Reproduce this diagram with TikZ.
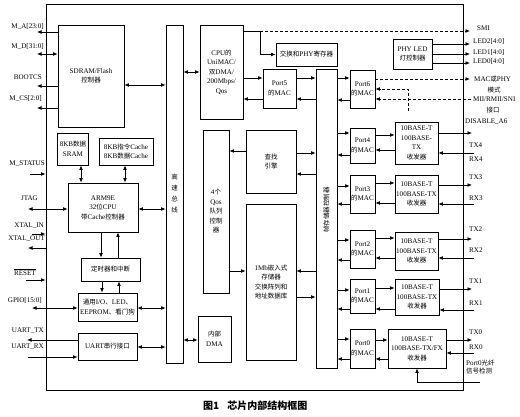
\documentclass[tikz,border=0pt]{standalone}
\usepackage{fontspec}
\setmainfont{Liberation Serif}
\newfontfamily\cjk{Noto Sans CJK SC}
\usetikzlibrary{arrows.meta}
\newcommand\zh[1]{{\cjk\fontsize{6.5}{9}\selectfont #1}}
\begin{document}
\begin{tikzpicture}[x=1pt,y=-1pt,
 box/.style={draw,line width=0.8pt,inner sep=0pt,align=center,font=\fontsize{7.1}{9.5}\selectfont},
 arr/.style={-{Latex[length=4.5pt,width=3.8pt]},line width=0.7pt},
 darr/.style={{Latex[length=4.5pt,width=3.8pt]}-{Latex[length=4.5pt,width=3.8pt]},line width=0.7pt},
 dsh/.style={dash pattern=on 3pt off 2pt},
 lbl/.style={inner sep=0pt,font=\fontsize{7.1}{8.5}\selectfont}]
\useasboundingbox (0,0) rectangle (520,417);
% outer chip
\node[box,line width=0.9pt,minimum width=417pt,minimum height=386pt] (chip) at (254.5,197) {};
% left column
\node[box,minimum width=66pt,minimum height=102pt] (sdram) at (91,76) {SDRAM/Flash\\\zh{控制器}};
\node[box,minimum width=17pt,minimum height=338pt,font=\fontsize{7}{11}\selectfont] (bus) at (174.5,194) {\zh{高}\\\zh{速}\\\zh{总}\\\zh{线}};
\node[box,minimum width=31pt,minimum height=32pt] (sram) at (73,149) {8KB\zh{数据}\\SRAM};
\node[box,minimum width=54pt,minimum height=27pt] (cache) at (126,151.5) {8KB\zh{指令}Cache\\8KB\zh{数据}Cache};
\node[box,minimum width=70pt,minimum height=49pt] (arm) at (103,207.5) {ARM9E\\32\zh{位}CPU\\\zh{带}Cache\zh{控制器}};
\node[box,minimum width=59pt,minimum height=23pt] (timer) at (110.5,269.5) {\zh{定时器和中断}};
\node[box,minimum width=59pt,minimum height=28pt] (gpio) at (107.5,307) {\zh{通用}I/O\zh{、}LED\zh{、}\\EEPROM\zh{、看门狗}};
\node[box,minimum width=59pt,minimum height=27pt] (uart) at (107.5,346.5) {UART\zh{串行接口}};
% middle
\node[box,minimum width=43pt,minimum height=94pt] (cpu) at (221.5,72) {CPU\zh{的}\\UniMAC/\\\zh{双}DMA/\\200Mbps/\\Qos};
\node[box,minimum width=61pt,minimum height=23pt] (phyreg) at (306.5,54.5) {\zh{交换和}PHY\zh{寄存器}};
\node[box,minimum width=33pt,minimum height=39pt] (port5) at (279.5,88.5) {Port5\\\zh{的}MAC};
\node[box,minimum width=21pt,minimum height=299pt] (frame) at (326.5,218.5) {};
\node[lbl,rotate=90] (frametxt) at (326.5,210) {\zh{帧存储器控制器}};
\node[box,minimum width=26pt,minimum height=163pt] (qos) at (216,211.5) {4\zh{个}\\Qos\\\zh{队列}\\\zh{控制}\\\zh{器}};
\node[box,minimum width=50pt,minimum height=63pt] (lookup) at (271,161.5) {\zh{查找}\\\zh{引擎}};
\node[box,minimum width=50pt,minimum height=156pt] (mem) at (271,282) {1Mb\zh{嵌入式}\\\zh{存储器}\\\zh{交换阵列和}\\\zh{地址数据库}};
\node[box,minimum width=33pt,minimum height=46pt] (dma) at (214.5,339) {\zh{内部}\\DMA};
% ports
\node[box,minimum width=25pt,minimum height=38pt] (port6) at (362.5,89) {Port6\\\zh{的}MAC};
\node[box,minimum width=25pt,minimum height=35pt] (port4) at (362.5,145.5) {Port4\\\zh{的}MAC};
\node[box,minimum width=25pt,minimum height=38pt] (port3) at (362.5,194) {Port3\\\zh{的}MAC};
\node[box,minimum width=25pt,minimum height=38pt] (port2) at (362.5,249) {Port2\\\zh{的}MAC};
\node[box,minimum width=25pt,minimum height=34pt] (port1) at (362.5,296) {Port1\\\zh{的}MAC};
\node[box,minimum width=25pt,minimum height=39pt] (port0) at (362.5,348.5) {Port0\\\zh{的}MAC};
\node[box,minimum width=39pt,minimum height=30pt] (phyled) at (412.5,54) {PHY LED\\\zh{灯控制器}};
\node[box,minimum width=43pt,minimum height=42pt] (trx4) at (416.5,143) {10BASE-T\\100BASE-\\TX\\\zh{收发器}};
\node[box,minimum width=43pt,minimum height=38pt] (trx3) at (416.5,194) {10BASE-T\\100BASE-TX\\\zh{收发器}};
\node[box,minimum width=43pt,minimum height=38pt] (trx2) at (416.5,251) {10BASE-T\\100BASE-TX\\\zh{收发器}};
\node[box,minimum width=44pt,minimum height=36pt] (trx1) at (417,297) {10BASE-T\\100BASE-TX\\\zh{收发器}};
\node[box,minimum width=58pt,minimum height=39pt] (trx0) at (417,348.5) {10BASE-T\\100BASE-TX/FX\\\zh{收发器}};
% left pins
\coordinate (pMA) at (37,32); \coordinate (pMD) at (37,54); \coordinate (pBC) at (37,86); \coordinate (pCS) at (37,108);
\coordinate (pST) at (30,174); \coordinate (pJT) at (28,209); \coordinate (pXI) at (32,234); \coordinate (pXO) at (28,248);
\coordinate (pRS) at (26,280); \coordinate (pGP) at (32,308); \coordinate (pTX) at (27,340); \coordinate (pRX) at (28,357);
\draw[arr] (sdram.west|-pMA) -- (pMA);
\draw[darr] (pMD) -- (sdram.west|-pMD);
\draw[arr] (sdram.west|-pBC) -- (pBC);
\draw[arr] (sdram.west|-pCS) -- (pCS);
\draw[arr] (pST) -- (chip.west|-pST);
\draw[darr] (pJT) -- (arm.west|-pJT);
\draw[arr] (pXI) -- (chip.west|-pXI);
\draw[arr] (chip.west|-pXO) -- (pXO);
\draw[arr] (pRS) -- (chip.west|-pRS);
\draw[darr] (pGP) -- (gpio.west|-pGP);
\draw[arr] (uart.west|-pTX) -- (pTX);
\draw[arr] (pRX) -- (uart.west|-pRX);
\node[lbl,anchor=east] (lMA) at (44,27) {M\_A[23:0]};
\node[lbl,anchor=east] (lMD) at (44,47) {M\_D[31:0]};
\node[lbl,anchor=east] (lBC) at (42,77) {BOOTCS};
\node[lbl,anchor=east] (lCS) at (42,99) {M\_CS[2:0]};
\node[lbl,anchor=east] (lST) at (45,164) {M\_STATUS};
\node[lbl,anchor=east] (lJT) at (38,198) {JTAG};
\node[lbl,anchor=east] (lXI) at (44,226) {XTAL\_IN};
\node[lbl,anchor=east] (lXO) at (45,239) {XTAL\_OUT};
\node[lbl,anchor=east] (lRS) at (36,272) {$\overline{\mbox{RESET}}$};
\node[lbl,anchor=east] (lGP) at (42,301) {GPIO[15:0]};
\node[lbl,anchor=east] (lTX) at (44,331) {UART\_TX};
\node[lbl,anchor=east] (lRX) at (44,347) {UART\_RX};
% internal left
\draw[darr] (sdram.east|-0,85) -- (bus.west|-0,85);
\draw[darr] (sram.south-|81,0) -- (arm.north-|81,0);
\draw[darr] (cache.south-|125,0) -- (arm.north-|125,0);
\draw[darr] (arm.east|-0,209) -- (bus.west|-0,209);
\draw[arr] (arm.south-|101,0) -- (timer.north-|101,0);
\draw[arr] (timer.north-|118,0) -- (arm.south-|118,0);
\draw[arr] (timer.south-|102,0) -- (gpio.north-|102,0);
\draw[arr] (gpio.north-|119,0) -- (timer.south-|119,0);
\draw[darr] (gpio.east|-0,308) -- (bus.west|-0,308);
\draw[darr] (uart.east|-0,347) -- (bus.west|-0,347);
% middle connections
\draw[darr] (bus.east|-0,72) -- (cpu.west|-0,72);
\draw[darr] (bus.east|-0,340) -- (dma.west|-0,340);
\coordinate (smiC) at (260,31); \coordinate (smiE) at (470,31);
\draw[arr] (cpu.east|-smiC) -- (smiC) |- (phyreg.west);
\draw[arr,dsh] (smiC) -- (smiE);
\draw[arr] (cpu.east|-0,78) -- (port5.west|-0,78);
\draw[arr] (port5.west|-0,99) -- (cpu.east|-0,99);
\draw[arr] (port5.east|-0,78) -- (frame.west|-0,78);
\draw[arr] (frame.west|-0,99) -- (port5.east|-0,99);
\draw[arr] (lookup.west|-0,151) -- (qos.east|-0,151);
\draw[arr] (lookup.east|-0,153) -- (frame.west|-0,153);
\draw[arr] (frame.west|-0,174) -- (lookup.east|-0,174);
\draw[arr] (qos.east|-0,271) -- (mem.west|-0,271);
\draw[arr] (frame.west|-0,271) -- (mem.east|-0,271);
\draw[arr] (mem.east|-0,297) -- (frame.west|-0,297);
% frame <-> ports
\foreach \p/\a/\b in {port6/78/100,port4/133/155,port3/186/204,port2/240/260,port1/290/309,port0/339/359}{
  \draw[arr] (frame.east|-0,\a) -- (\p.west|-0,\a);
  \draw[arr] (\p.west|-0,\b) -- (frame.east|-0,\b);
}
% ports <-> transceivers
\foreach \p/\t/\a/\b in {port4/trx4/135/150,port3/trx3/183/203,port2/trx2/238/258,port1/trx1/288/309,port0/trx0/340/359}{
  \draw[arr] (\p.east|-0,\a) -- (\t.west|-0,\a);
  \draw[arr] (\t.west|-0,\b) -- (\p.east|-0,\b);
}
% TX / RX
\foreach \t/\a/\b/\n in {trx4/133/153/4,trx3/185/204/3,trx2/239/258/2,trx1/289/310/1,trx0/340/353/0}{
  \coordinate (tx\n) at (472,\a); \coordinate (rx\n) at (474,\b);
  \draw[arr] (\t.east|-tx\n) -- (tx\n);
  \draw[arr] (rx\n) -- (\t.east|-rx\n);
}
\node[lbl,anchor=west] (lTX4) at (469,145) {TX4};
\node[lbl,anchor=west] (lRX4) at (469,159) {RX4};
\node[lbl,anchor=west] (lTX3) at (469,177) {TX3};
\node[lbl,anchor=west] (lRX3) at (469,198) {RX3};
\node[lbl,anchor=west] (lTX2) at (469,229) {TX2};
\node[lbl,anchor=west] (lRX2) at (469,250) {RX2};
\node[lbl,anchor=west] (lTX1) at (469,281) {TX1};
\node[lbl,anchor=west] (lRX1) at (469,303) {RX1};
\node[lbl,anchor=west] (lTX0) at (469,332) {TX0};
\node[lbl,anchor=west] (lRX0) at (469,347) {RX0};
\node[lbl,anchor=west,align=left] (lfib) at (466,367) {Port0\zh{光纤}\\\zh{信号检测}};
\coordinate (fib) at (480,382);
\draw[arr] (fib) -| (trx0.south);
% PHY LED
\foreach \y/\n in {44/2,54/1,63/0}{
  \coordinate (led\n) at (470,\y);
  \draw[arr] (phyled.east|-led\n) -- (led\n);
}
\node[lbl,anchor=west] (lLED2) at (473,42) {LED2[4:0]};
\node[lbl,anchor=west] (lLED1) at (473,53) {LED1[4:0]};
\node[lbl,anchor=west] (lLED0) at (473,62) {LED0[4:0]};
\node[lbl,anchor=west] (lSMI) at (477,28) {SMI};
% port6 dashed
\coordinate (mode) at (470,79);
\draw[arr,dsh] (port6.east|-mode) -- (mode);
\coordinate (dv) at (408,89); \coordinate (dvb) at (408,111);
\draw[arr,dsh] (dvb) -- (dv) -- (port6.east|-dv);
\coordinate (mii) at (471,99);
\draw[arr,dsh] (mii) -- (port6.east|-mii);
\node[lbl,anchor=west] (lmode) at (474,79) {MAC\zh{或}PHY};
\node[lbl] (lmode2) at (494,90) {\zh{模式}};
\node[lbl,anchor=west] (lmii) at (473,99) {MII/RMII/SNI};
\node[lbl] (lmii2) at (493,110) {\zh{接口}};
\node[lbl,anchor=west] (ldis) at (465,122) {DISABLE\_A6};
% caption
\node[inner sep=0pt,anchor=west,font=\cjk\bfseries\fontsize{10}{11}\selectfont] (cap) at (203,406) {图1\hspace{8pt}芯片内部结构框图};
\end{tikzpicture}
\end{document}
